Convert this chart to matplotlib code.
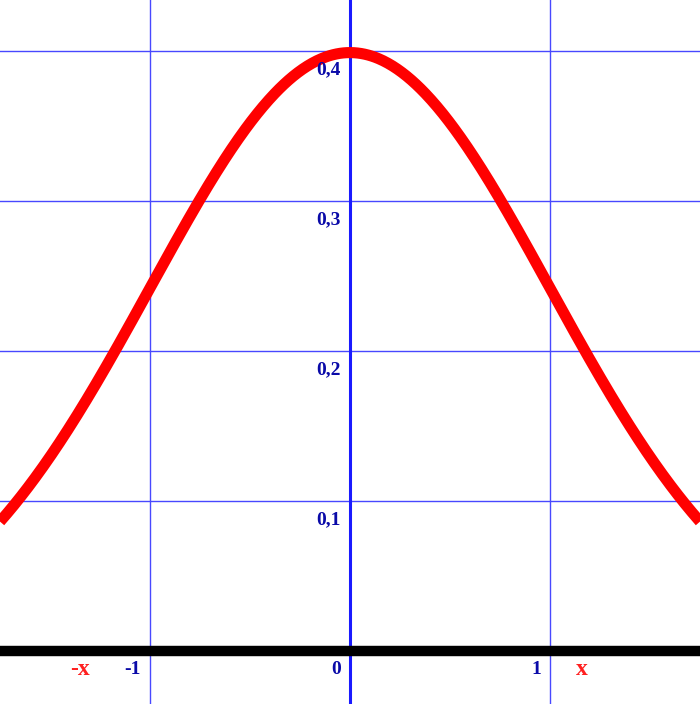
import numpy as np
from matplotlib import pyplot as plt

# data
x_min, x_max = -1.75, 1.75
grid_x = [-1, 1]
grid_y = [0.1, 0.2, 0.3, 0.4]
y_labels = ['0,1', '0,2', '0,3', '0,4']
x_ticks = [-1, 0, 1]
x_labels = ['-1', '0', '1']
marks_x = [-1.35, 1.16]
marks_txt = ['-x', 'x']

x = np.linspace(x_min, x_max, 600)
y = np.exp(-x ** 2 / 2) / np.sqrt(2 * np.pi)

fig = plt.figure(figsize=(7, 7.04), dpi=100)
ax = fig.add_axes([0, 0, 1, 1])
ax.set_xlim(x_min, x_max)
ax.set_ylim(-53 / 1500, 651 / 1500)
ax.axis('off')

# grid
for gx in grid_x:
    ax.axvline(gx, color='#4848ff', lw=1.0, zorder=1)
for gy in grid_y:
    ax.axhline(gy, color='#4848ff', lw=1.0, zorder=1)
ax.axvline(0, color='#1a1aff', lw=2.2, zorder=2)
ax.axhline(0, color='black', lw=7.5, zorder=2)

# curve
ax.plot(x, y, color='red', lw=8, solid_capstyle='butt', zorder=3)

font = dict(family='Liberation Serif', fontweight='bold', fontsize=14)
for gy, lab in zip(grid_y, y_labels):
    ax.text(-0.045, gy - 0.0125, lab, color='#0a0aa8', ha='right', va='center', zorder=4, **font)
for tx, lab in zip(x_ticks, x_labels):
    ax.text(tx - 0.045, -0.0125, lab, color='#0a0aa8', ha='right', va='center', zorder=4, **font)
for mx, lab in zip(marks_x, marks_txt):
    ax.text(mx, -0.0125, lab, color='#ff2020', ha='center', va='center', zorder=4,
            family='Liberation Serif', fontweight='bold', fontsize=17)

fig.savefig('out.png', dpi=100)
